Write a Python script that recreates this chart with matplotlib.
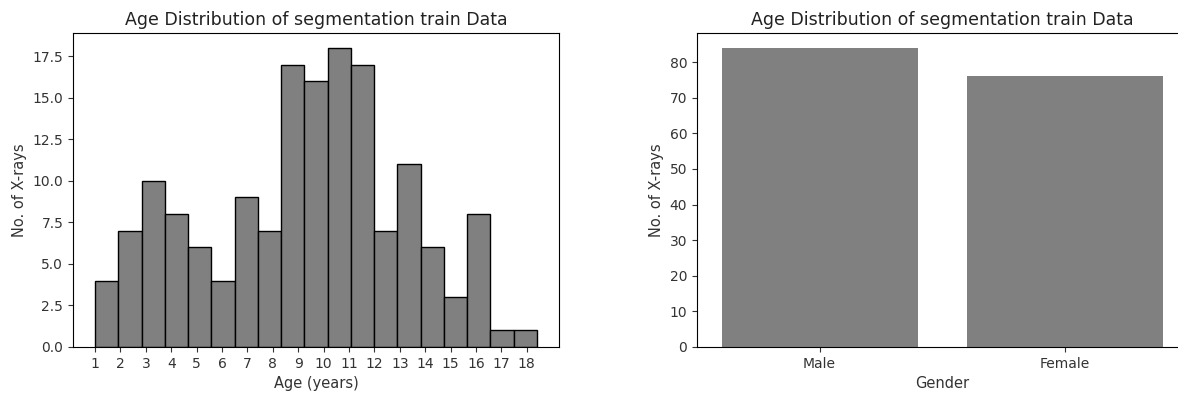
import matplotlib
matplotlib.use("Agg")
import matplotlib.pyplot as plt
import numpy as np

# age histogram counts (19 bins between youngest and oldest age)
age_min, age_max = 1.0, 18.4
age_counts = [4, 7, 10, 8, 6, 4, 9, 7, 17, 16, 18, 17, 7, 11, 6, 3, 8, 1, 1]
age_ticks = list(range(1, 19))

genders = ["Male", "Female"]
gender_counts = [84, 76]

W, H = 1178, 394
fig = plt.figure(figsize=(W / 100, H / 100), dpi=100)

def px_axes(x0, y0, x1, y1):
    return fig.add_axes([x0 / W, 1 - y1 / H, (x1 - x0) / W, (y1 - y0) / H])

title = "Age Distribution of segmentation train Data"
fs_title, fs_tick, fs_label = 12.5, 10, 10.5

# left: histogram of ages
ax1 = px_axes(73, 33, 559, 347)
edges = np.linspace(age_min, age_max, len(age_counts) + 1)
ax1.hist(edges[:-1], bins=edges, weights=age_counts, color="gray",
         edgecolor="black", linewidth=1)
ax1.set_xticks(age_ticks)
ax1.tick_params(labelsize=fs_tick, colors="#333333", labelcolor="#333333")
ax1.set_xlabel("Age (years)", fontsize=fs_label, color="#333333")
ax1.set_ylabel("No. of X-rays", fontsize=fs_label, color="#333333")
ax1.set_title(title, fontsize=fs_title, color="#222222")

# right: gender counts
ax2 = px_axes(697, 33, 1187, 347)
pos = np.arange(len(genders))
ax2.bar(pos, gender_counts, width=0.8, color="gray")
ax2.set_xlim(-0.5, len(genders) - 0.5)
ax2.set_ylim(0, max(gender_counts) * 1.05)
ax2.set_xticks(pos)
ax2.set_xticklabels(genders)
ax2.set_yticks(np.arange(0, 81, 10))
ax2.tick_params(labelsize=fs_tick, colors="#333333", labelcolor="#333333")
ax2.set_xlabel("Gender", fontsize=fs_label, color="#333333")
ax2.set_ylabel("No. of X-rays", fontsize=fs_label, color="#333333")
ax2.set_title(title, fontsize=fs_title, color="#222222")

fig.savefig("out.png", dpi=100)
